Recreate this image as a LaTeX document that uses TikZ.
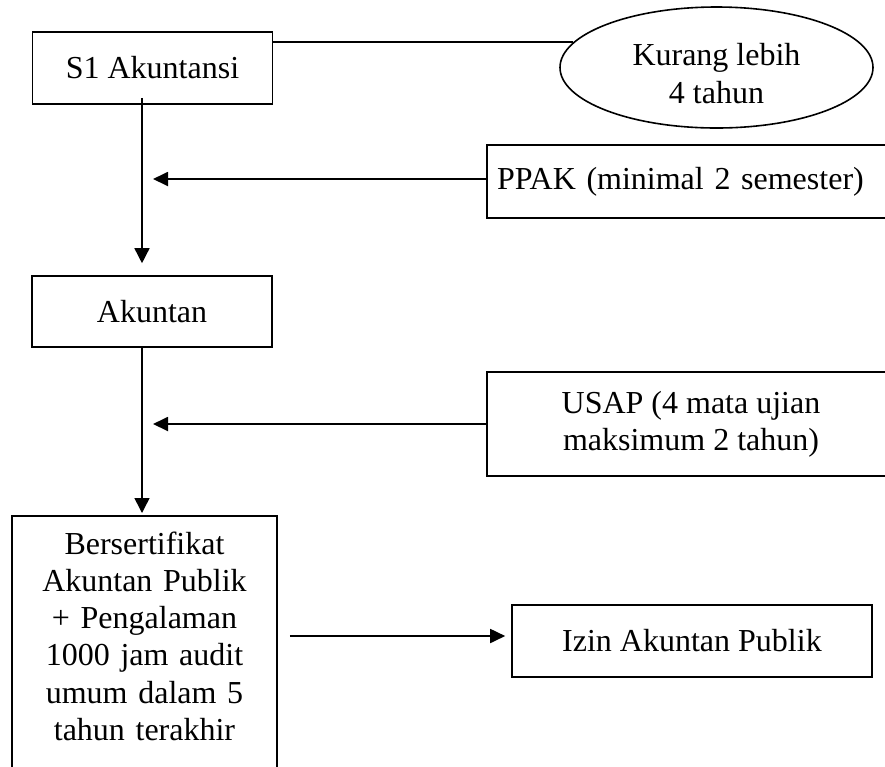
\documentclass[tikz,border=0pt]{standalone}
\usepackage{fontspec}
\setmainfont{Liberation Serif}
\usetikzlibrary{shapes.geometric,arrows.meta}

\begin{document}
\begin{tikzpicture}
[x=0.5pt,y=-0.5pt,
every node/.style={font=\fontsize{16}{18.6}\selectfont,align=center},
box/.style={draw,line width=0.8pt,inner sep=0pt},
oval/.style={draw,ellipse,line width=0.8pt,inner sep=0pt},
link/.style={line width=0.75pt},
arr/.style={line width=0.9pt,-{Triangle[length=7.5pt,width=7pt]}}]
\useasboundingbox (0,0) rectangle (885,767);
\clip (0,0) rectangle (885,767);
\node[box,minimum width=120pt,minimum height=36pt] (s1) at (152.5,68) {S1 Akuntansi};
\node[oval,minimum width=156.5pt,minimum height=60.5pt] (kurang) at (716.5,67.5) {};
\node (kurangtext) at ([yshift=-3pt]kurang) {Kurang lebih\\4 tahun};
\node[box,minimum height=36.5pt,text width=199pt,align=left,inner xsep=5pt] (ppak) at (696,181.5) {PPAK (minimal 2 semester)};
\node[box,minimum width=120pt,minimum height=35.5pt] (akuntan) at (152,311.5) {Akuntan};
\node[box,minimum width=204pt,minimum height=52pt] (usap) at (691,424) {USAP (4 mata ujian\\maksimum 2 tahun)};
\node[box,anchor=north,text width=132.5pt,inner ysep=8pt] (sertifikat) at (144.5,515)
  {Bersertifikat\\Akuntan Publik\\+ Pengalaman\\1000 jam audit\\umum dalam 5\\tahun terakhir\\[30pt]\mbox{}};
\node[box,minimum width=180pt,minimum height=36pt] (izin) at (692,641) {Izin Akuntan Publik};
\coordinate (spine) at (142,0);
\draw[link] (kurang.170) -- (kurang.170 -| s1.east);
\draw[link,-{Triangle[length=7.5pt,width=7.5pt]},shorten <=-3.5pt,shorten >=6pt] (s1.south -| spine) -- (akuntan.north -| spine);
\draw[arr,shorten >=5.5pt] ([yshift=1.25pt]ppak.west) -- ([yshift=1.25pt]ppak.west -| spine);
\draw[arr,shorten >=5.5pt] (usap.west) -- (usap.west -| spine);
\draw[link,-{Triangle[length=7.5pt,width=7.5pt]},shorten >=1pt] (akuntan.south -| spine) -- (sertifikat.north -| spine);
\draw[arr,shorten <=6pt,shorten >=3pt] ([yshift=2.5pt]izin.west -| sertifikat.east) -- ([yshift=2.5pt]izin.west);
\end{tikzpicture}
\end{document}
